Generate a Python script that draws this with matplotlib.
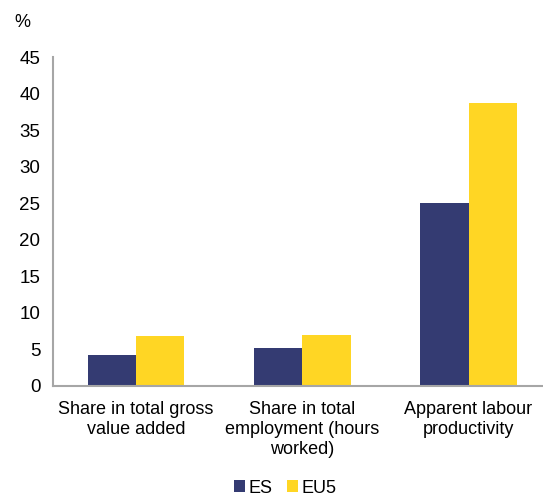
import matplotlib
matplotlib.use("Agg")
import matplotlib.pyplot as plt
import numpy as np

plt.rcParams['font.family'] = ['Liberation Sans', 'DejaVu Sans']

categories = ["Share in total gross\nvalue added",
              "Share in total\nemployment (hours\nworked)",
              "Apparent labour\nproductivity"]
es_values = [4.3, 5.2, 25.0]
eu5_values = [6.9, 7.0, 38.7]
series_names = ["ES", "EU5"]
yticks = [0, 5, 10, 15, 20, 25, 30, 35, 40, 45]

fig = plt.figure(figsize=(5.43, 4.98), dpi=100)
ax = fig.add_axes([0.0976, 0.2249, 0.9, 0.6606])

x = np.arange(len(categories))
w = 0.29
ax.bar(x - w/2, es_values, w, color="#343B72", label=series_names[0])
ax.bar(x + w/2, eu5_values, w, color="#FFD624", label=series_names[1])

ax.set_xlim(-0.5, 2.44)
ax.set_ylim(0, 45)
ax.set_yticks(yticks)
ax.set_yticklabels([str(t) for t in yticks], fontsize=13.5)
ax.set_xticks(x)
ax.set_xticklabels(categories, fontsize=13, linespacing=1.22)
ax.tick_params(axis='both', length=0)
ax.tick_params(axis='y', pad=9)
ax.tick_params(axis='x', pad=11)
for s in ["top", "right"]:
    ax.spines[s].set_visible(False)
for s in ["left", "bottom"]:
    ax.spines[s].set_color("#A6A6A6")
    ax.spines[s].set_linewidth(1.5)

fig.text(0.027, 0.955, "%", fontsize=13, ha="left", va="center")

fig.legend(loc="center", bbox_to_anchor=(0.525, 0.02), ncol=2, frameon=False,
           fontsize=13, handlelength=0.6, handleheight=0.6, handletextpad=0.2,
           columnspacing=0.8, borderpad=0)

fig.savefig("out.png", dpi=100)
